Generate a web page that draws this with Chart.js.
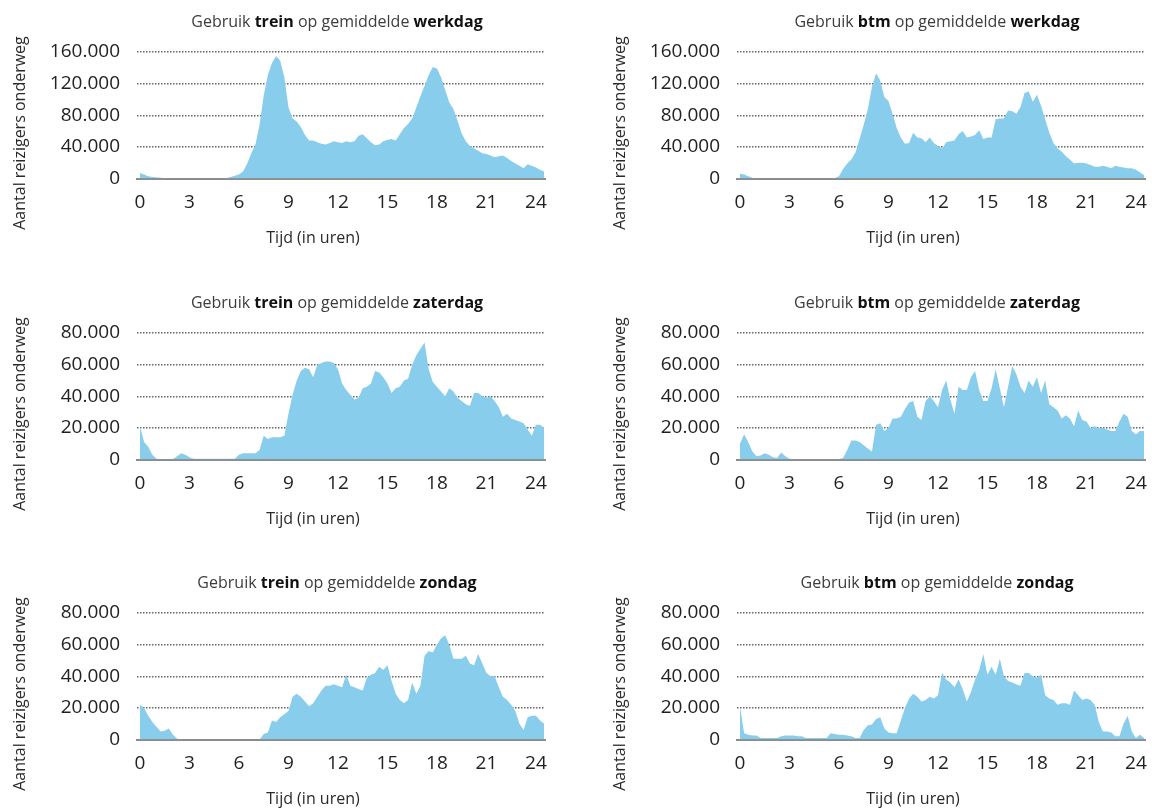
<!DOCTYPE html>
<html>
<head>
<meta charset="utf-8">
<script src="https://cdn.jsdelivr.net/npm/chart.js@4/dist/chart.umd.min.js"></script>
<style>
  html, body { margin: 0; padding: 0; background: #fff; overflow: hidden; }
  .panel { position: absolute; width: 552px; height: 280px; }
</style>
</head>
<body>
<div class="panel" style="left:0;top:0"><canvas id="c1" width="552" height="280"></canvas></div>
<div class="panel" style="left:600px;top:0"><canvas id="c2" width="552" height="280"></canvas></div>
<div class="panel" style="left:0;top:281px"><canvas id="c3" width="552" height="280"></canvas></div>
<div class="panel" style="left:600px;top:281px"><canvas id="c4" width="552" height="280"></canvas></div>
<div class="panel" style="left:0;top:561px"><canvas id="c5" width="552" height="280"></canvas></div>
<div class="panel" style="left:600px;top:561px"><canvas id="c6" width="552" height="280"></canvas></div>
<script>
//--Chart Style Options--//
Chart.defaults.font.family = "'Open Sans', sans-serif";
Chart.defaults.color = '#222';
Chart.defaults.plugins.legend.display = false;
Chart.defaults.plugins.tooltip.enabled = false;
Chart.defaults.animation = false;
//--Chart Style Options--//

// time grid: every quarter hour, 0 .. 24.5
const hours = Array.from({ length: 99 }, (_, i) => i / 4);
const hourTicks = [0, 3, 6, 9, 12, 15, 18, 21, 24];

// travellers on the way, x 1000, per quarter hour (one line = 3 hours)
const treinWerkdag = [
  7, 5, 3, 2, 1.5, 1, 0.5, 0, 0, 0, 0, 0,
  0, 0, 0, 0, 0, 0, 0, 0, 0, 0.5, 2, 3.5,
  5, 9, 19, 32, 43, 68, 105, 131, 146, 155, 149, 128,
  90, 76, 72, 65, 55, 48, 48, 46, 44, 43, 45, 47,
  46, 45, 47, 46, 47, 54, 56, 51, 46, 42, 43, 47,
  49, 50, 48, 56, 64, 69, 76, 90, 104, 117, 131, 141,
  139, 128, 112, 96, 88, 73, 57, 47, 41, 38, 35, 32,
  31, 29, 27, 28, 29, 26, 22, 19, 16, 13, 18, 16,
  14, 11, 9
];
const btmWerkdag = [
  6, 5, 3, 1, 0, 0, 0, 0, 0, 0, 0, 0,
  0, 0, 0, 0, 0, 0, 0, 0, 0, 0, 0, 0.5,
  3, 12, 19, 24, 33, 50, 68, 88, 116, 133, 124, 103,
  98, 82, 64, 52, 44, 45, 58, 52, 51, 46, 52, 45,
  41, 38, 46, 47, 48, 56, 60, 52, 53, 55, 61, 50,
  52, 52, 75, 76, 76, 86, 85, 82, 90, 108, 110, 97,
  106, 92, 75, 58, 45, 38, 34, 28, 24, 19, 20, 20,
  19, 17, 15, 15, 16, 15, 13, 16, 15, 14, 13, 13,
  11, 8, 4
];
const treinZaterdag = [
  21, 11, 8, 3, 0.5, 0.3, 0.3, 0.3, 0.3, 2, 4, 3,
  1.5, 0.5, 0.5, 0.5, 0.5, 0.5, 0.5, 0.5, 0.5, 0.5, 0.5, 0.5,
  3, 4, 4, 4, 4, 6, 15, 13, 14, 14, 14, 15,
  29, 41, 50, 56, 58, 57, 52, 60, 61, 62, 62, 61,
  57, 48, 44, 41, 38, 39, 45, 46, 48, 56, 55, 52,
  48, 42, 45, 46, 50, 51, 60, 66, 70, 74, 57, 49,
  46, 43, 40, 45, 43, 39, 37, 35, 34, 42, 42, 40,
  39, 40, 37, 33, 27, 29, 26, 25, 24, 23, 19, 15,
  22, 22, 20
];
const btmZaterdag = [
  10, 16, 11, 5, 2, 2.5, 4, 3, 1.5, 1, 4.5, 2,
  0.5, 0.3, 0.3, 0.3, 0.3, 0.3, 0.3, 0.3, 0.3, 0.3, 0.3, 0.3,
  0.3, 1, 6, 12, 12, 11, 9, 7, 5, 22, 23, 18,
  20, 26, 26, 27, 32, 36, 37, 27, 25, 37, 40, 37,
  33, 44, 50, 38, 29, 46, 44, 44, 52, 56, 44, 37,
  37, 45, 57, 45, 33, 46, 59, 54, 46, 42, 50, 46,
  52, 42, 50, 35, 33, 31, 26, 28, 26, 21, 31, 25,
  24, 20, 21, 20, 20, 19, 18, 18, 24, 29, 27, 18,
  16, 18, 18
];
const treinZondag = [
  22, 20, 15, 11, 8, 5, 5.5, 7, 3, 0.5, 0, 0,
  0, 0, 0, 0, 0, 0, 0, 0, 0, 0, 0, 0,
  0, 0, 0, 0, 0, 0, 3.5, 4.5, 12, 11, 14, 16,
  18, 27, 29, 27, 24, 21, 23, 27, 31, 34, 34, 35,
  34, 33, 41, 34, 33, 32, 31, 39, 41, 42, 46, 44,
  47, 37, 29, 25, 23, 25, 36, 29, 34, 53, 56, 55,
  60, 64, 66, 60, 51, 51, 51, 53, 48, 47, 54, 48,
  42, 40, 40, 33, 27, 25, 22, 18, 10, 6, 14, 15,
  15, 12, 10
];
const btmZondag = [
  21, 4, 3, 2.5, 2.5, 1, 1, 1, 1, 1, 2, 2.5,
  2.5, 2.5, 2, 2, 1, 1, 1, 1, 1, 1, 4, 3.5,
  3, 3, 2.5, 2, 1, 1, 6, 9, 9.5, 13, 14, 7,
  4.5, 4, 4, 12, 20, 26, 29, 27, 24, 25, 27, 26,
  28, 42, 38, 36, 33, 38, 32, 24, 30, 38, 44, 54,
  41, 46, 41, 51, 40, 37, 36, 35, 34, 42, 42, 40,
  39, 41, 28, 26, 25, 22, 23, 23, 22, 31, 28, 25,
  26, 25, 22, 11, 5, 5, 4.5, 2, 2, 10, 15, 5,
  1, 3, 1
];

const panels = [
  { id: 'c1', mode: 'trein', day: 'werkdag', values: treinWerkdag, max: 160, step: 40 },
  { id: 'c2', mode: 'btm', day: 'werkdag', values: btmWerkdag, max: 160, step: 40 },
  { id: 'c3', mode: 'trein', day: 'zaterdag', values: treinZaterdag, max: 80, step: 20 },
  { id: 'c4', mode: 'btm', day: 'zaterdag', values: btmZaterdag, max: 80, step: 20 },
  { id: 'c5', mode: 'trein', day: 'zondag', values: treinZondag, max: 80, step: 20 },
  { id: 'c6', mode: 'btm', day: 'zondag', values: btmZondag, max: 80, step: 20 }
];

// title with bold words + axis titles
const panelText = {
  id: 'panelText',
  afterDraw(chart, args, opts) {
    const ctx = chart.ctx;
    const normal = "16px 'Open Sans', sans-serif";
    const bold = "bold 16px 'Open Sans', sans-serif";
    ctx.save();
    ctx.textBaseline = 'middle';
    ctx.textAlign = 'left';

    const parts = [['Gebruik ', false], [opts.mode, true], [' op gemiddelde ', false], [opts.day, true]];
    let total = 0;
    parts.forEach(p => { ctx.font = p[1] ? bold : normal; total += ctx.measureText(p[0]).width; });
    let x = 337 - total / 2;
    parts.forEach(p => {
      ctx.font = p[1] ? bold : normal;
      ctx.fillStyle = p[1] ? '#111' : '#3c3c3c';
      ctx.fillText(p[0], x, 22);
      x += ctx.measureText(p[0]).width;
    });

    ctx.font = normal;
    ctx.fillStyle = '#2a2a2a';
    ctx.textAlign = 'center';
    ctx.fillText('Tijd (in uren)', 313, 238);

    ctx.translate(20, 133);
    ctx.rotate(-Math.PI / 2);
    ctx.fillText('Aantal reizigers onderweg', 0, 0);
    ctx.restore();
  }
};

panels.forEach(p => {
  new Chart(document.getElementById(p.id), {
    type: 'line',
    data: {
      labels: hours,
      datasets: [{
        data: p.values,
        fill: 'origin',
        backgroundColor: '#89cded',
        borderWidth: 0,
        pointRadius: 0,
        tension: 0
      }]
    },
    options: {
      responsive: false,
      layout: { padding: { top: 52, right: 7, bottom: 0, left: 0 } },
      scales: {
        x: {
          type: 'linear',
          min: -0.18,
          max: 24.55,
          z: 1,
          afterBuildTicks: s => { s.ticks = hourTicks.map(v => ({ value: v })); },
          afterFit: s => { s.height = 101.5; },
          grid: { display: false },
          border: { display: true, color: '#8c8c8c', width: 2 },
          ticks: { padding: 5, maxRotation: 0, autoSkip: false, font: { size: 19 }, color: '#222' }
        },
        y: {
          min: 0,
          max: p.max,
          afterFit: s => { s.width = 137; },
          ticks: {
            stepSize: p.step,
            padding: 17,
            font: { size: 19 },
            color: '#222',
            callback: v => v === 0 ? '0' : v + '.000'
          },
          grid: {
            color: c => c.tick.value === 0 ? 'rgba(0,0,0,0)' : '#666',
            lineWidth: 1.5,
            drawTicks: false
          },
          border: { display: false, dash: [1.5, 1.5] }
        }
      },
      plugins: { panelText: { mode: p.mode, day: p.day } }
    },
    plugins: [panelText]
  });
});
</script>
</body>
</html>
